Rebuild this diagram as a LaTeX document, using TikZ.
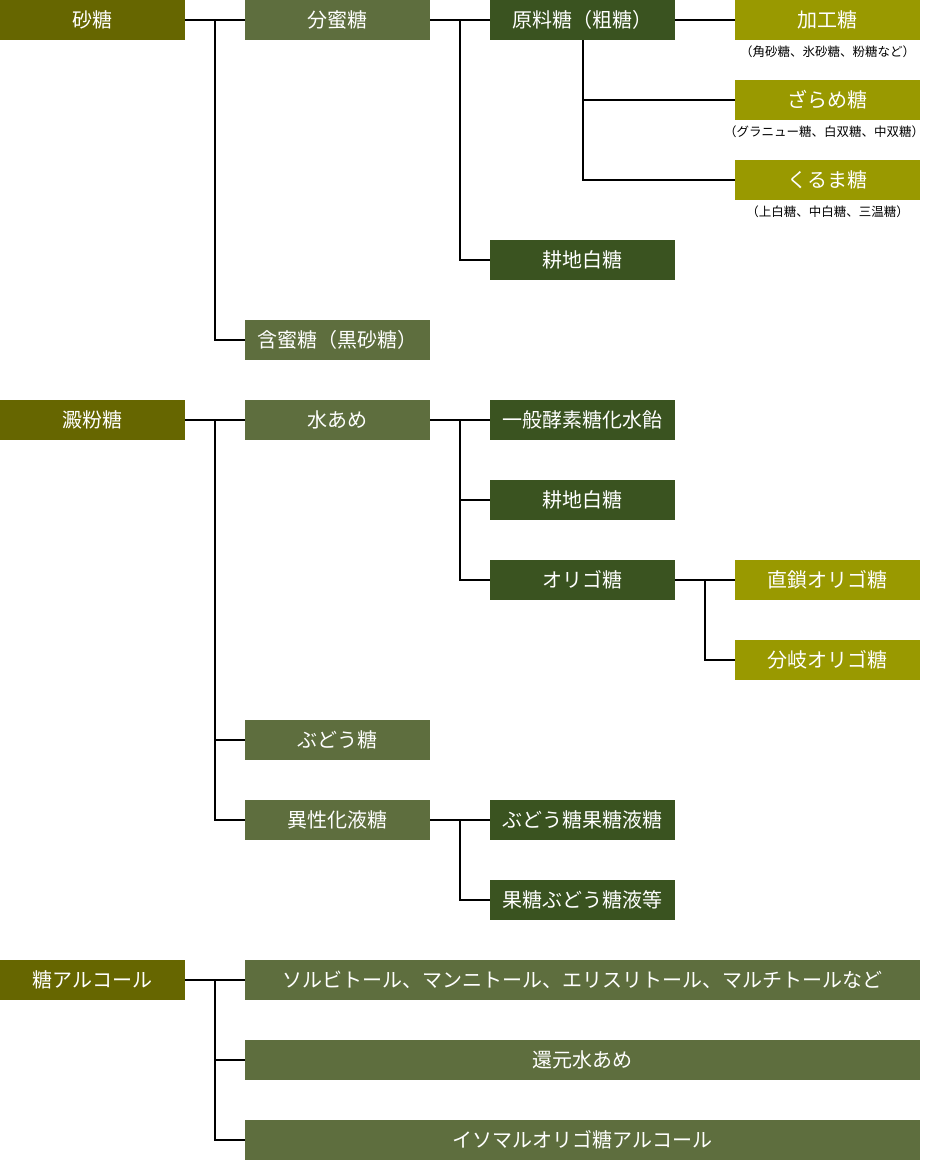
\documentclass[tikz,border=0pt]{standalone}
\usepackage{fontspec}
\setmainfont{Noto Sans CJK JP}
\usepackage{xcolor}
\usetikzlibrary{positioning,calc}

\definecolor{catcol}{HTML}{666600}
\definecolor{subcol}{HTML}{5E6E3E}
\definecolor{itemcol}{HTML}{3A5320}
\definecolor{leafcol}{HTML}{999900}

\begin{document}
\begin{tikzpicture}[x=1pt, y=-1pt,
    box/.style={minimum width=185pt, minimum height=40pt, inner sep=0pt, outer sep=0pt,
                text=white, font=\fontsize{20}{23}\selectfont},
    lvone/.style={box, fill=catcol},
    lvtwo/.style={box, fill=subcol},
    lvthree/.style={box, fill=itemcol},
    lvfour/.style={box, fill=leafcol},
    lvwide/.style={box, fill=subcol, minimum width=675pt},
    note/.style={font=\fontsize{12.5}{15}\selectfont, inner sep=0pt},
    link/.style={draw=black, line width=2pt}]
\useasboundingbox (0,0) rectangle (926,1160);
% grid: columns at x = 92.5 / 337.5 / 582.5 / 827.5, rows every 80px
% --- 砂糖 ---
\node[lvone]   (sato)     at (92.5,20)   {砂糖};
\node[lvtwo]   (bunmitsu) at (337.5,20)  {分蜜糖};
\node[lvtwo]   (ganmitsu) at (337.5,340) {含蜜糖（黒砂糖）};
\node[lvthree] (genryo)   at (582.5,20)  {原料糖（粗糖）};
\node[lvthree] (kochia)   at (582.5,260) {耕地白糖};
\node[lvfour]  (kako)     at (827.5,20)  {加工糖};
\node[lvfour]  (zarame)   at (827.5,100) {ざらめ糖};
\node[lvfour]  (kuruma)   at (827.5,180) {くるま糖};
\node[note]    (kakonote)   at (827.5,52)  {（角砂糖、氷砂糖、粉糖など）};
\node[note]    (zaramenote) at (824,132)   {（グラニュー糖、白双糖、中双糖）};
\node[note]    (kurumanote) at (827.5,212) {（上白糖、中白糖、三温糖）};
% --- 澱粉糖 ---
\node[lvone]   (denpun)   at (92.5,420)  {澱粉糖};
\node[lvtwo]   (mizuame)  at (337.5,420) {水あめ};
\node[lvtwo]   (budo)     at (337.5,740) {ぶどう糖};
\node[lvtwo]   (iseika)   at (337.5,820) {異性化液糖};
\node[lvthree] (koso)     at (582.5,420) {一般酵素糖化水飴};
\node[lvthree] (kochib)   at (582.5,500) {耕地白糖};
\node[lvthree] (oligo)    at (582.5,580) {オリゴ糖};
\node[lvthree] (budokato) at (582.5,820) {ぶどう糖果糖液糖};
\node[lvthree] (katobudo) at (582.5,900) {果糖ぶどう糖液等};
\node[lvfour]  (chokusa)  at (827.5,580) {直鎖オリゴ糖};
\node[lvfour]  (bunki)    at (827.5,660) {分岐オリゴ糖};
% --- 糖アルコール ---
\node[lvone]   (alc)      at (92.5,980)   {糖アルコール};
\node[lvwide]  (sorbit)   at (582.5,980)  {ソルビトール、マンニトール、エリスリトール、マルチトールなど};
\node[lvwide]  (kangen)   at (582.5,1060) {還元水あめ};
\node[lvwide]  (isomal)   at (582.5,1140) {イソマルオリゴ糖アルコール};

% junction points (30px right of the parent box)
\coordinate (jsato)   at ($(sato.east)+(30,0)$);
\coordinate (jbun)    at ($(bunmitsu.east)+(30,0)$);
\coordinate (jden)    at ($(denpun.east)+(30,0)$);
\coordinate (jmizu)   at ($(mizuame.east)+(30,0)$);
\coordinate (joligo)  at ($(oligo.east)+(30,0)$);
\coordinate (jiseika) at ($(iseika.east)+(30,0)$);
\coordinate (jalc)    at ($(alc.east)+(30,0)$);

% connectors
\draw[link] (sato.east) -- (bunmitsu.west);
\draw[link] (jsato) |- (ganmitsu.west);
\draw[link] (bunmitsu.east) -- (genryo.west);
\draw[link] (jbun) |- (kochia.west);
\draw[link] (genryo.east) -- (kako.west);
\draw[link] (genryo.south) |- (zarame.west);
\draw[link] (genryo.south) |- (kuruma.west);

\draw[link] (denpun.east) -- (mizuame.west);
\draw[link] (jden) |- (budo.west);
\draw[link] (jden) |- (iseika.west);
\draw[link] (mizuame.east) -- (koso.west);
\draw[link] (jmizu) |- (kochib.west);
\draw[link] (jmizu) |- (oligo.west);
\draw[link] (oligo.east) -- (chokusa.west);
\draw[link] (joligo) |- (bunki.west);
\draw[link] (iseika.east) -- (budokato.west);
\draw[link] (jiseika) |- (katobudo.west);

\draw[link] (alc.east) -- (sorbit.west);
\draw[link] (jalc) |- (kangen.west);
\draw[link] (jalc) |- (isomal.west);
\end{tikzpicture}
\end{document}
